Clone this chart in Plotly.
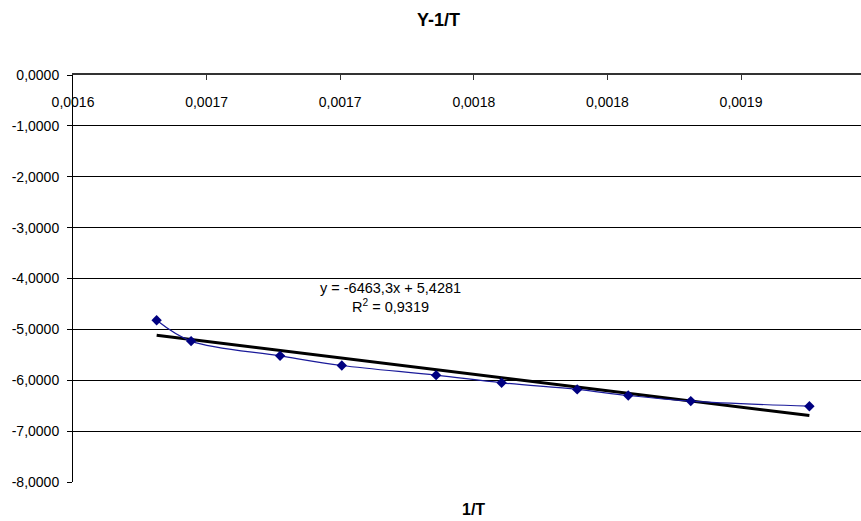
import plotly.graph_objects as go

# ---- data ----
inv_t = [0.0016313, 0.0016442, 0.0016775, 0.0017006, 0.0017359,
         0.0017604, 0.0017887, 0.0018078, 0.0018312, 0.0018756]
y_vals = [-4.82, -5.23, -5.52, -5.71, -5.90, -6.05, -6.18, -6.30, -6.41, -6.51]

trend_slope = -6463.3
trend_intercept = 5.4281
r_squared = 0.9319

x_tick_vals = [0.0016, 0.00165, 0.0017, 0.00175, 0.0018, 0.00185, 0.0019]
x_tick_text = ["0,0016", "0,0017", "0,0017", "0,0018", "0,0018", "0,0019", "0,0019"]
x_cut_tick_val = 0.00195
x_cut_tick_text = "0,0020"
y_tick_vals = [0, -1, -2, -3, -4, -5, -6, -7, -8]
y_tick_text = ["0,0000", "-1,0000", "-2,0000", "-3,0000", "-4,0000",
               "-5,0000", "-6,0000", "-7,0000", "-8,0000"]

title_text = "Y-1/T"
x_title = "1/T"

FONT = "Liberation Sans, Arial, sans-serif"
X0 = 0.0016
X1 = 0.00189491

trend_x = [inv_t[0], inv_t[-1]]
trend_y = [trend_slope * v + trend_intercept for v in trend_x]

fig = go.Figure()
fig.add_trace(go.Scatter(
    x=trend_x, y=trend_y, mode="lines",
    line=dict(color="black", width=3), showlegend=False, hoverinfo="skip"))
fig.add_trace(go.Scatter(
    x=inv_t, y=y_vals, mode="lines+markers",
    line=dict(color="#1a1a9a", width=1.2, shape="spline", smoothing=1),
    marker=dict(symbol="diamond", size=8, color="#000080"),
    showlegend=False))

eq = "y = -6463,3x + 5,4281"
r2 = "R<sup>2</sup> = " + "{:.4f}".format(r_squared).replace(".", ",")

def px_x(p):
    return (p - 73) / 788

def px_y(p):
    return (482 - p) / 407

fig.add_annotation(x=px_x(390), y=px_y(297), xref="paper", yref="paper",
                   xanchor="center", yanchor="middle",
                   text=eq + "<br>" + r2, showarrow=False, align="center",
                   font=dict(family=FONT, size=14.5, color="black"))
fig.add_annotation(x=(x_cut_tick_val - X0) / (X1 - X0), y=px_y(102),
                   xref="paper", yref="paper", xanchor="center", yanchor="middle",
                   text=x_cut_tick_text, showarrow=False,
                   font=dict(family=FONT, size=14, color="black"))
fig.add_annotation(x=px_x(438.5), y=px_y(20), xref="paper", yref="paper",
                   xanchor="center", yanchor="middle",
                   text="<b>" + title_text + "</b>", showarrow=False,
                   font=dict(family=FONT, size=18, color="black"))
fig.add_annotation(x=px_x(473), y=px_y(509), xref="paper", yref="paper",
                   xanchor="center", yanchor="middle",
                   text="<b>" + x_title + "</b>", showarrow=False,
                   font=dict(family=FONT, size=16, color="black"))

fig.update_layout(
    width=861, height=521,
    margin=dict(l=73, r=0, t=75, b=39),
    paper_bgcolor="white", plot_bgcolor="white",
    font=dict(family=FONT, size=14, color="black"),
    xaxis=dict(
        range=[X0, X1], side="top", ticklabelposition="inside",
        ticklabeloverflow="allow", ticklabelstandoff=17,
        tickvals=x_tick_vals, ticktext=x_tick_text,
        ticks="inside", ticklen=5, tickcolor="#333",
        showline=True, linecolor="#333", linewidth=2,
        showgrid=False, zeroline=False,
        tickfont=dict(family=FONT, size=14, color="black")),
    yaxis=dict(
        range=[-8, 0], tickvals=y_tick_vals, ticktext=y_tick_text,
        ticks="outside", ticklen=5, tickcolor="black",
        ticklabeloverflow="allow",
        showline=True, linecolor="black", linewidth=1,
        showgrid=True, gridcolor="black", gridwidth=1, zeroline=False,
        ticklabelstandoff=5,
        tickfont=dict(family=FONT, size=14, color="black")),
)

fig.write_html("out.html")
